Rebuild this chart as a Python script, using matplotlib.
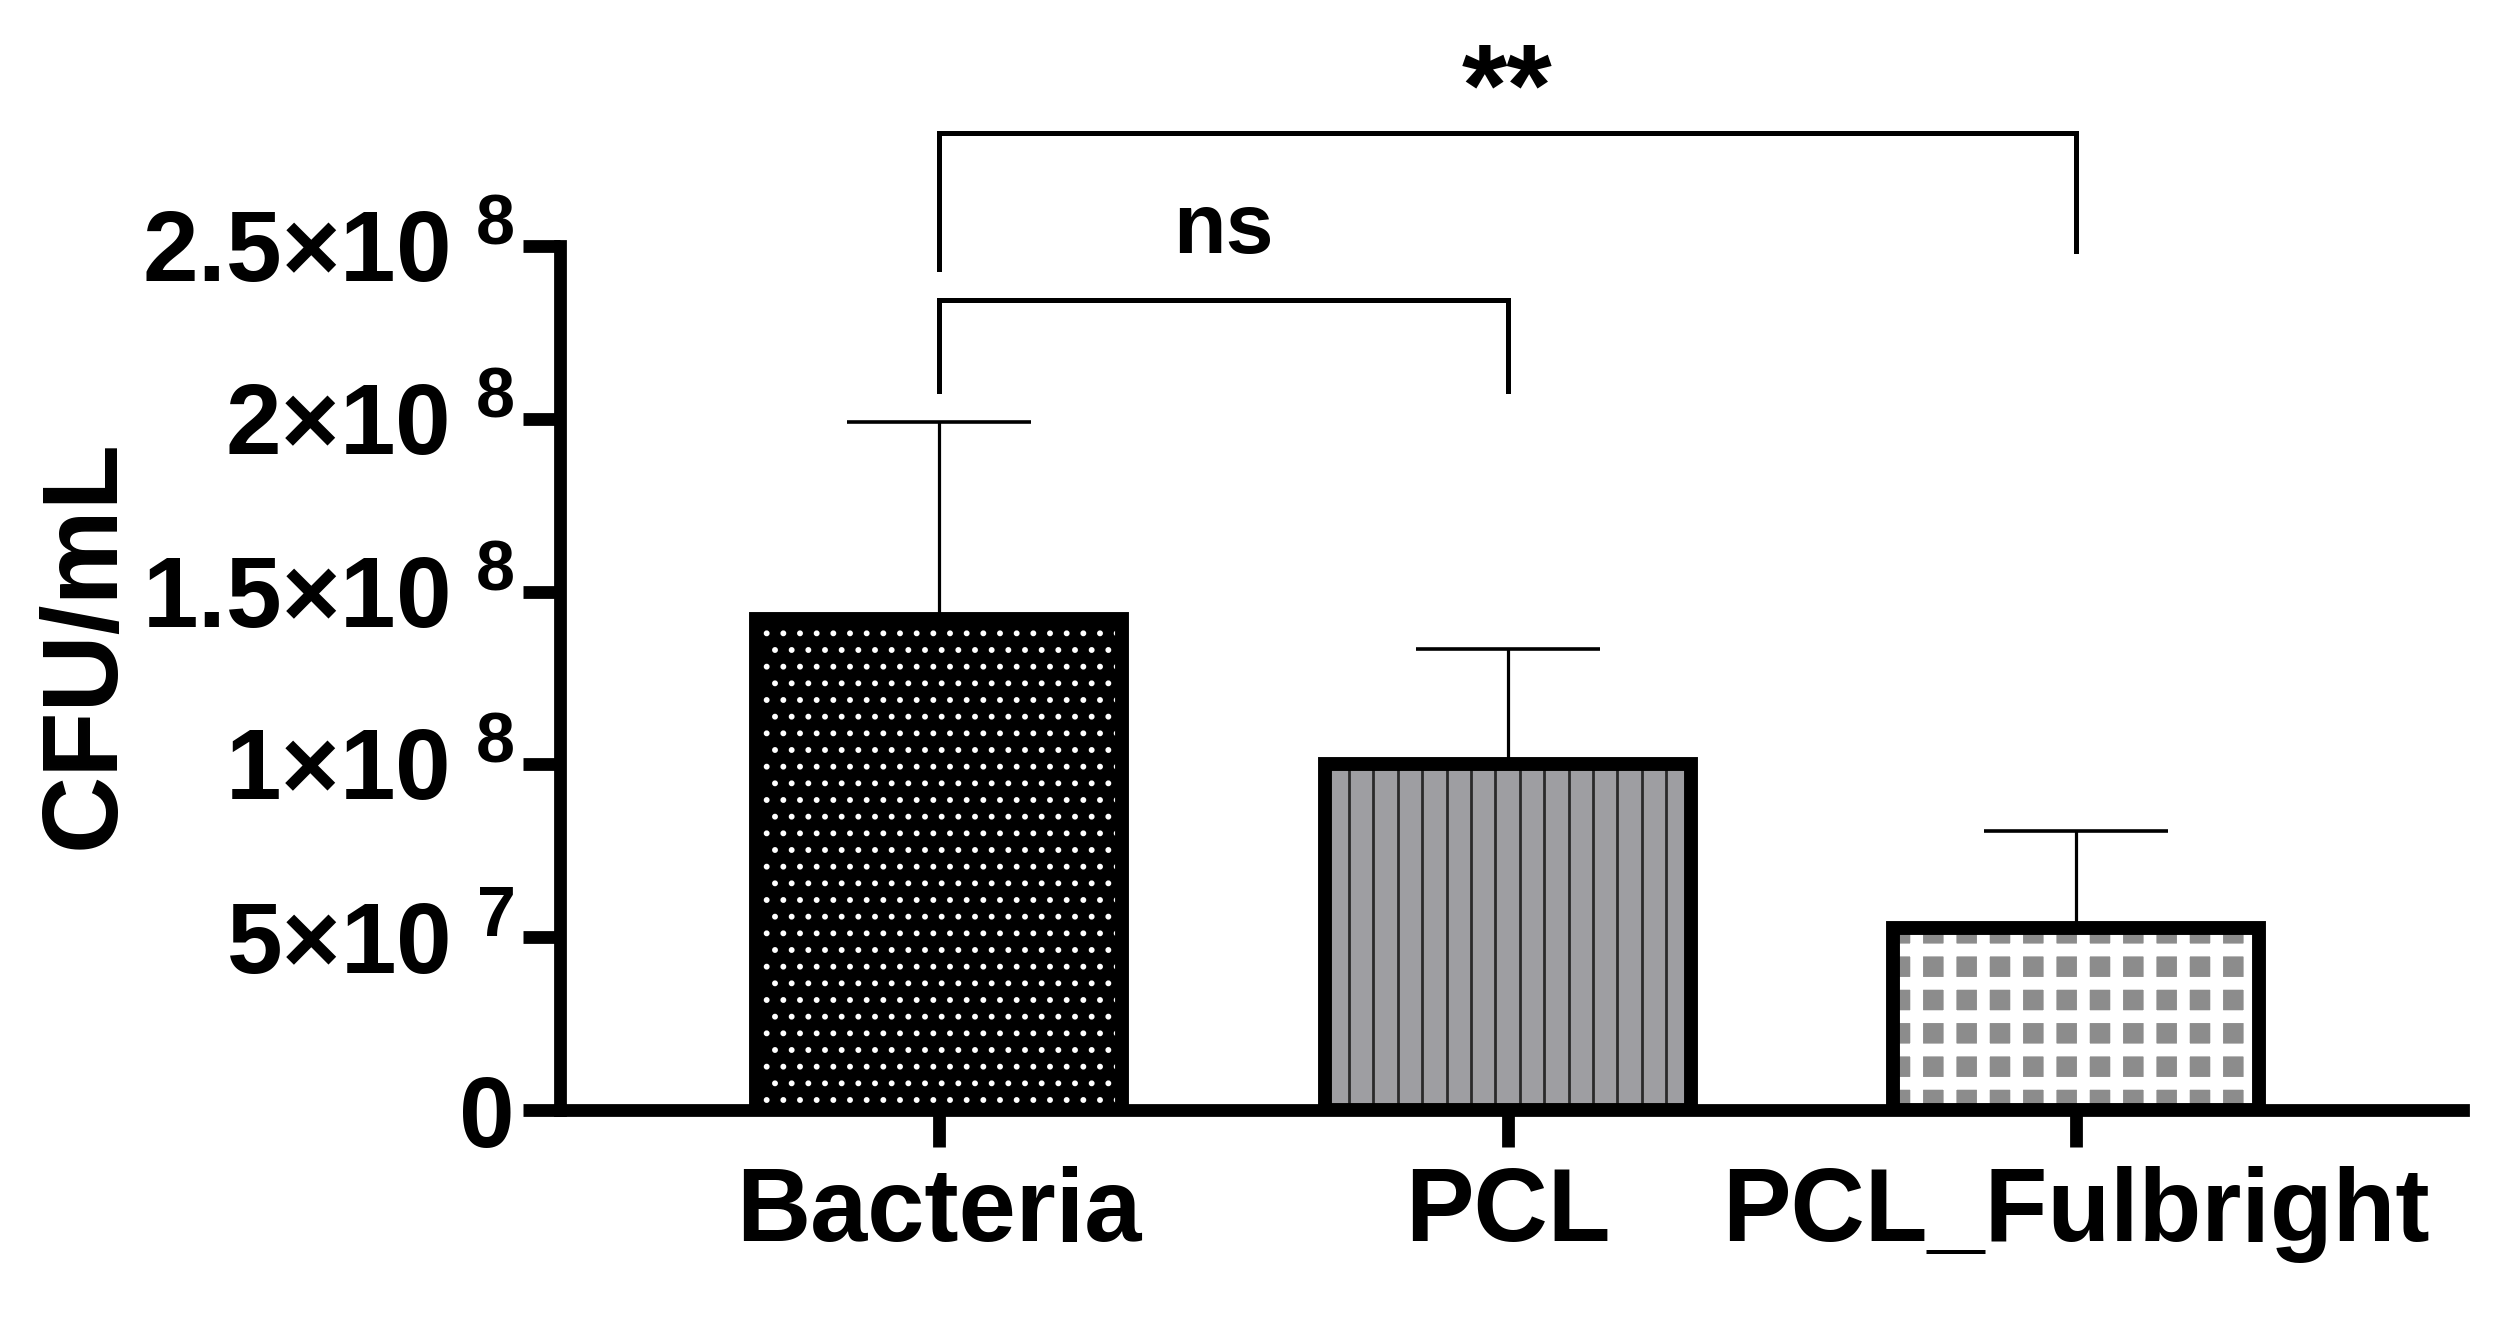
import numpy as np
import matplotlib
matplotlib.use('Agg')
import matplotlib.pyplot as plt
from matplotlib.ticker import FuncFormatter

# data
groups = ['Bacteria', 'PCL', 'PCL_Fulbright']
means = [1.42e8, 1.0e8, 0.527e8]
sds = [0.57e8, 0.333e8, 0.281e8]
yticks = [0, 5e7, 1e8, 1.5e8, 2e8, 2.5e8]
# significance brackets: (group i, group j, bar height, left leg end, right leg end, text)
brackets = [
    (0, 1, 2.343e8, 2.08e8, 2.08e8, 'ns'),
    (0, 2, 2.827e8, 2.433e8, 2.486e8, '**'),
]

plt.rcParams['font.family'] = ['Liberation Sans', 'DejaVu Sans']
plt.rcParams['font.weight'] = 'bold'
plt.rcParams['mathtext.fontset'] = 'custom'
plt.rcParams['mathtext.bf'] = 'Liberation Sans:bold'
plt.rcParams['mathtext.rm'] = 'Liberation Sans:bold'

fig = plt.figure(figsize=(12.59, 6.635), dpi=200)
ax = fig.add_axes([0.2224, 0.1635, 0.7558, 0.651])

x = np.arange(len(groups))
w = 0.644

ax.errorbar(x, means, yerr=[np.zeros(len(sds)), sds], fmt='none', ecolor='black',
            elinewidth=1.15, capsize=33, capthick=1.3, zorder=1)

# Bacteria: black with white dots
with plt.rc_context({'hatch.linewidth': 0.9}):
    ax.bar(x[0], means[0], w, color='black', edgecolor='white', hatch='..',
           linewidth=0, zorder=2)
# PCL: grey with dark vertical lines
ax.bar(x[1], means[1], w, color='#9e9ea2', linewidth=0, zorder=2)
n_lines = 14
xs = x[1] - w / 2 + w * np.arange(1, n_lines + 1) / (n_lines + 1)
ax.vlines(xs, 0, means[1], colors='#2a2a2a', lw=1.0, zorder=2.5)
# PCL_Fulbright: grey squares on white
with plt.rc_context({'hatch.linewidth': 4.6}):
    ax.bar(x[2], means[2], w, color='#8c8c8c', edgecolor='white', hatch='+',
           linewidth=0, zorder=2)

ax.bar(x, means, w, fill=False, edgecolor='black', linewidth=5, zorder=3)

for i, j, h, li, lj, txt in brackets:
    ax.plot([x[i], x[i], x[j], x[j]], [li, h, h, lj], color='black', lw=1.8,
            clip_on=False, zorder=4, solid_joinstyle='miter')
    if txt == 'ns':
        ax.text((x[i] + x[j]) / 2, h + 0.2e8, txt, ha='center', va='center',
                fontsize=31, fontweight='bold')
    else:
        ax.text((x[i] + x[j]) / 2, h + 0.11e8, txt, ha='center', va='center',
                fontsize=42, fontweight='bold')


def sci(v, pos):
    if v == 0:
        return '0'
    e = int(np.floor(np.log10(v)))
    mant = f'{v / 10**e:g}'
    return r'$\mathbf{' + mant + r'{\times}10^{\ ' + str(e) + r'}}$'


ax.set_ylim(0, 2.5e8)
ax.set_xlim(-0.667, 2.681)
ax.set_yticks(yticks)
ax.yaxis.set_major_formatter(FuncFormatter(sci))
ax.set_xticks(x)
ax.set_xticklabels(groups, fontsize=37, fontweight='bold')
ax.tick_params(axis='y', labelsize=36, length=13.3, width=4.6, pad=3)
ax.tick_params(axis='x', length=13.3, width=4.6, pad=7)
ax.set_ylabel('CFU/mL', fontsize=38.5, fontweight='bold')
ax.yaxis.set_label_coords(-0.223, 0.54)

for s in ['top', 'right']:
    ax.spines[s].set_visible(False)
for s in ['left', 'bottom']:
    ax.spines[s].set_linewidth(4.6)

fig.savefig('out.png', dpi=200)
